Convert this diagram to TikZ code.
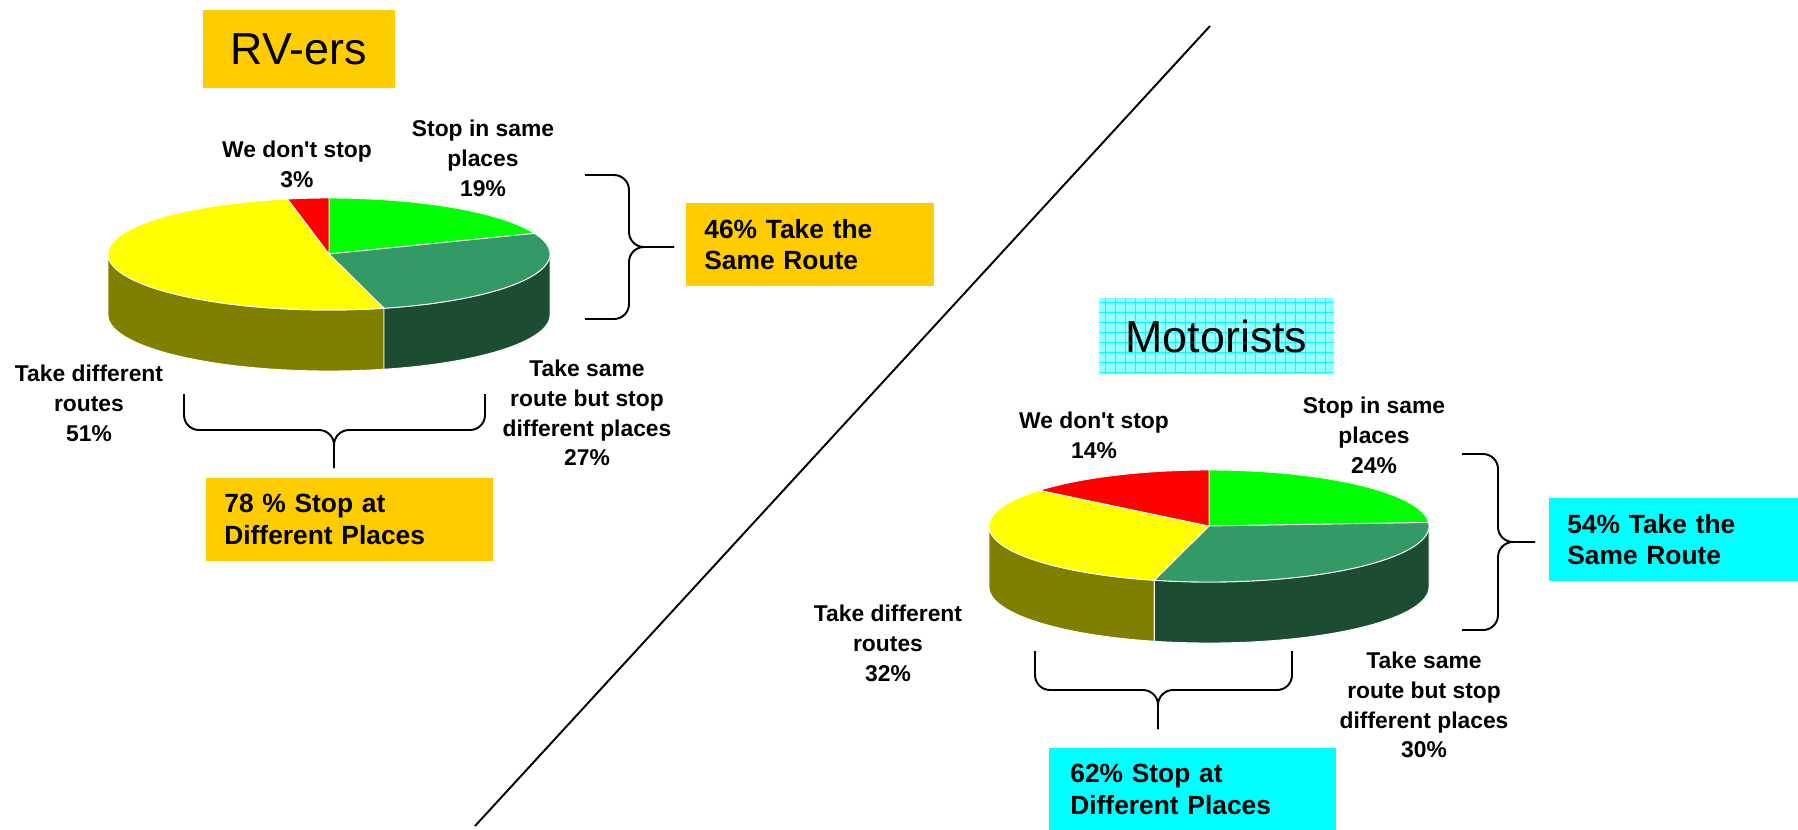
\documentclass[tikz,border=0pt]{standalone}
\usepackage{fontspec}
\setmainfont{Liberation Sans}
\definecolor{pgreen}{RGB}{0,255,0}
\definecolor{pteal}{RGB}{51,153,102}
\definecolor{pyellow}{RGB}{255,255,0}
\definecolor{pred}{RGB}{255,0,0}
\definecolor{polive}{RGB}{128,128,0}
\definecolor{pdeep}{RGB}{28,77,51}
\definecolor{rvgold}{RGB}{255,204,0}
\definecolor{motcyan}{RGB}{0,255,255}
\definecolor{motgrid}{RGB}{150,255,255}

\begin{document}
\begin{tikzpicture}[x=0.02cm, y=0.02cm,
  ttlbox/.style={minimum height=1.55cm, inner sep=0pt, font=\fontsize{25.5}{30}\selectfont},
  lbl/.style={align=center, inner sep=0pt, font=\fontsize{13}{17}\selectfont\bfseries},
  sumbox/.style={anchor=north west, align=left, inner xsep=0.36cm, inner ysep=0pt, minimum height=1.65cm, font=\fontsize{15}{18.1}\selectfont\bfseries},
  bracepath/.style={line width=1.1pt, rounded corners=0.3cm},
  rim/.style={draw=white, line width=0.5pt}
]
  \useasboundingbox (0,0) rectangle (1798,-829);

  % divider
  \coordinate (divtop) at (1210,-26);
  \coordinate (divbot) at (475,-826);
  \draw[line width=1.1pt] (divtop) -- (divbot);

  % RV-ers pie
  \foreach \a/\b/\c in {-180/-75.6/polive, -75.6/0/pdeep}
    \fill[\c, rim] plot[domain=\a:\b, samples=50] ({329+221*cos(\x)},{-254+56*sin(\x)})
      -- plot[domain=\b:\a, samples=50] ({329+221*cos(\x)},{-315+56*sin(\x)}) -- cycle;
  \foreach \a/\b/\c in {90/21.6/pgreen, 21.6/-75.6/pteal, -75.6/-259.2/pyellow, 100.8/90/pred}
    \fill[\c, rim] (329,-254) -- plot[domain=\a:\b, samples=60] ({329+221*cos(\x)},{-254+56*sin(\x)}) -- cycle;

  % Motorists pie
  \foreach \a/\b/\c in {-180/-104.4/polive, -104.4/0/pdeep}
    \fill[\c, rim] plot[domain=\a:\b, samples=50] ({1209+220*cos(\x)},{-526+56*sin(\x)})
      -- plot[domain=\b:\a, samples=50] ({1209+220*cos(\x)},{-587+56*sin(\x)}) -- cycle;
  \foreach \a/\b/\c in {90/3.6/pgreen, 3.6/-104.4/pteal, -104.4/-219.6/pyellow, 140.4/90/pred}
    \fill[\c, rim] (1209,-526) -- plot[domain=\a:\b, samples=60] ({1209+220*cos(\x)},{-526+56*sin(\x)}) -- cycle;

  % titles
  \node[ttlbox, fill=rvgold, minimum width=3.84cm] (rvtitle) at (299,-49) {RV-ers};
  \node[ttlbox, fill=motgrid, minimum width=4.7cm, minimum height=1.52cm,
    path picture={\draw[motcyan, line width=0.5pt] (path picture bounding box.south west)
      grid[step=0.2cm] (path picture bounding box.north east);}] (mottitle) at (1216.5,-336) {Motorists};

  % slice labels
  \node[lbl] (rvnone) at (297,-164) {We don\textquotesingle t stop\\3\%};
  \node[lbl] (rvsame) at (483,-158) {Stop in same\\places\\19\%};
  \node[lbl] (rvdiff) at (89,-403) {Take different\\routes\\51\%};
  \node[lbl] (rvmix) at (587,-413) {Take same\\route but stop\\different places\\27\%};

  \node[lbl] (motnone) at (1094,-435) {We don\textquotesingle t stop\\14\%};
  \node[lbl] (motsame) at (1374,-435) {Stop in same\\places\\24\%};
  \node[lbl] (motdiff) at (888,-643) {Take different\\routes\\32\%};
  \node[lbl] (motmix) at (1424,-705) {Take same\\route but stop\\different places\\30\%};

  % summary boxes
  \node[sumbox, fill=rvgold, text width=4.24cm] (rvroute) at (686,-203) {46\% Take the\\Same Route};
  \node[sumbox, fill=rvgold, text width=5.02cm] (rvstop) at (206,-478) {78 \% Stop at\\Different Places};
  \node[sumbox, fill=motcyan, text width=4.26cm] (motroute) at (1549,-498) {54\% Take the\\Same Route};
  \node[sumbox, fill=motcyan, text width=4.9cm, inner xsep=0.42cm] (motstop) at (1049,-748) {62\% Stop at\\Different Places};

  % braces
  \coordinate (rvrA) at (585,-175);
  \coordinate (rvrB) at (585,-319);
  \coordinate (rvrT) at (674,-247);
  \draw[bracepath] (rvrA) -| ++(44,-72) -- (rvrT);
  \draw[bracepath] (rvrB) -| ++(44,72) -- (rvrT);

  \coordinate (rvbA) at (184,-394);
  \coordinate (rvbB) at (485,-394);
  \coordinate (rvbT) at (334,-468);
  \draw[bracepath] (rvbA) |- ++(150,-36) -- (rvbT);
  \draw[bracepath] (rvbB) |- ++(-151,-36) -- (rvbT);

  \coordinate (motrA) at (1462,-454);
  \coordinate (motrB) at (1462,-630);
  \coordinate (motrT) at (1535,-542);
  \draw[bracepath] (motrA) -| ++(36,-88) -- (motrT);
  \draw[bracepath] (motrB) -| ++(36,88) -- (motrT);

  \coordinate (motbA) at (1035,-651);
  \coordinate (motbB) at (1292,-651);
  \coordinate (motbT) at (1158,-729);
  \draw[bracepath] (motbA) |- ++(123,-39) -- (motbT);
  \draw[bracepath] (motbB) |- ++(-134,-39) -- (motbT);
\end{tikzpicture}
\end{document}
